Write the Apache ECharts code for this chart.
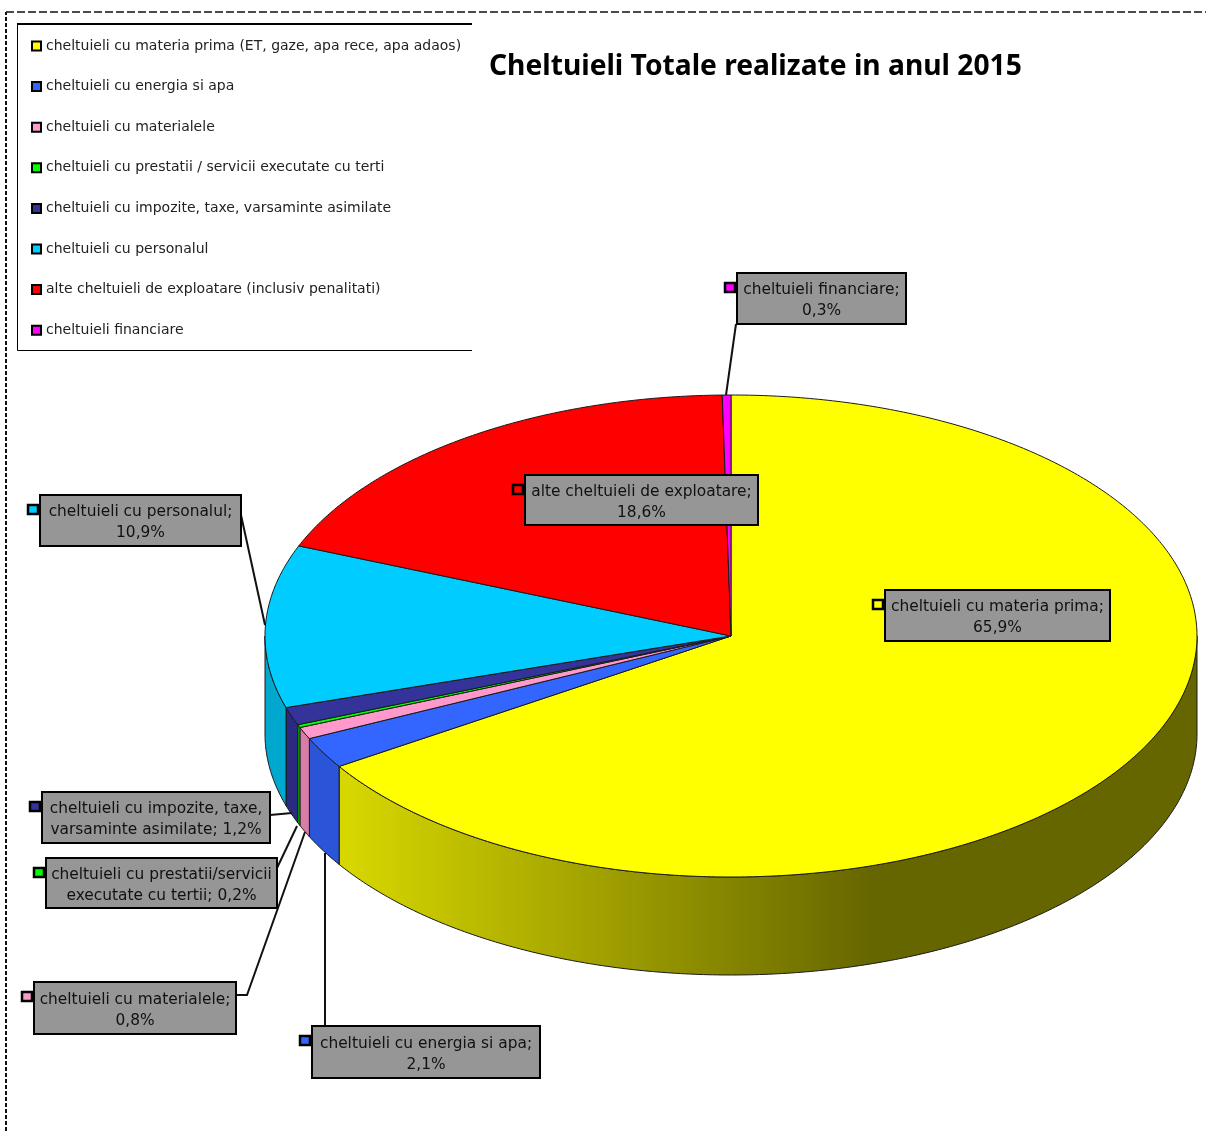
<!DOCTYPE html>
<html>
<head>
<meta charset="utf-8">
<title>Cheltuieli Totale 2015</title>
<script src="https://cdn.jsdelivr.net/npm/echarts@6/dist/echarts.min.js"></script>
<style>
  html, body { margin: 0; padding: 0; background: #fff; }
  #chart { width: 1206px; height: 1131px; }
</style>
</head>
<body>
<div id="chart"></div>
<script>
const titleText = 'Cheltuieli Totale realizate in anul 2015'

const legendNames = [
  'cheltuieli cu materia prima (ET, gaze, apa rece, apa adaos)',
  'cheltuieli cu energia si apa',
  'cheltuieli cu materialele',
  'cheltuieli cu prestatii / servicii executate cu terti',
  'cheltuieli cu impozite, taxe, varsaminte asimilate',
  'cheltuieli cu personalul',
  'alte cheltuieli de exploatare (inclusiv penalitati)',
  'cheltuieli financiare'
]
const percents = [65.9, 2.1, 0.8, 0.2, 1.2, 10.9, 18.6, 0.3]
const labelLines = [
  ['cheltuieli cu materia prima;', '65,9%'],
  ['cheltuieli cu energia si apa;', '2,1%'],
  ['cheltuieli cu materialele;', '0,8%'],
  ['cheltuieli cu prestatii/servicii', 'executate cu tertii; 0,2%'],
  ['cheltuieli cu impozite, taxe,', 'varsaminte asimilate; 1,2%'],
  ['cheltuieli cu personalul;', '10,9%'],
  ['alte cheltuieli de exploatare;', '18,6%'],
  ['cheltuieli financiare;', '0,3%']
]
const topColors = ['#ffff00', '#3366ff', '#ff99cc', '#00ff00', '#333399', '#00ccff', '#ff0000', '#ff00ff']
const wallColors = ['#d8d800', '#2a55d8', '#d87ca8', '#00d000', '#2a2a80', '#00a8d0', '#d00000', '#d000d0']

// geometria placintei
const cx = 731, cy = 636, rx = 466, ry = 241, depth = 98

// casetele de eticheta: [x0, y0, x1, y1], linia de legatura
const labelBoxes = [
  { box: [885, 590, 1110, 641], leader: null },
  { box: [312, 1026, 540, 1078], leader: [[325, 1026], [325, 853]] },
  { box: [34, 982, 236, 1034], leader: [[236, 995], [247, 995], [305, 832]] },
  { box: [46, 858, 277, 908], leader: [[277, 868], [297, 826]] },
  { box: [42, 792, 270, 843], leader: [[270, 815], [292, 813]] },
  { box: [40, 495, 241, 546], leader: [[241, 515], [265, 625]] },
  { box: [525, 475, 758, 525], leader: null },
  { box: [737, 273, 906, 324], leader: [[736, 324], [726, 395]] }
]

const total = percents.reduce((a, b) => a + b, 0)
const starts = []
percents.reduce((sum, p, i) => { starts[i] = sum; return sum + p }, 0)

const toAngle = p => p / total * Math.PI * 2
const rimPoint = (t, dy) => [cx + rx * Math.sin(t), cy - ry * Math.cos(t) + dy]

function arcPoints(t0, t1, dy) {
  const n = Math.max(2, Math.ceil((t1 - t0) / 0.01))
  const pts = []
  for (let i = 0; i <= n; i++) pts.push(rimPoint(t0 + (t1 - t0) * i / n, dy))
  return pts
}

function wallFill(i) {
  if (i !== 0) return wallColors[i]
  // peretele galben se intuneca spre dreapta
  return new echarts.graphic.LinearGradient(341, 0, 1197, 0, [
    { offset: 0, color: '#d8d800' },
    { offset: 0.62, color: '#666600' },
    { offset: 1, color: '#666600' }
  ], true)
}

function renderSlice(params, api) {
  const i = params.seriesIndex
  const t0 = toAngle(starts[i])
  const t1 = toAngle(starts[i] + api.value(0))
  const children = []

  // peretele lateral, doar pe partea din fata
  const a = Math.max(t0, Math.PI / 2)
  const b = Math.min(t1, Math.PI * 1.5)
  if (b > a) {
    children.push({
      type: 'polygon',
      z2: 1,
      shape: { points: arcPoints(a, b, 0).concat(arcPoints(a, b, depth).reverse()) },
      style: { fill: wallFill(i), stroke: '#1a1a1a', lineWidth: 1 }
    })
  }

  children.push({
    type: 'polygon',
    z2: 2,
    shape: { points: [[cx, cy]].concat(arcPoints(t0, t1, 0)) },
    style: { fill: topColors[i], stroke: '#1a1a1a', lineWidth: 1 }
  })

  // eticheta
  const { box, leader } = labelBoxes[i]
  if (leader) {
    children.push({
      type: 'polyline',
      z2: 5,
      shape: { points: leader },
      style: { fill: 'none', stroke: '#111', lineWidth: 2 }
    })
  }
  children.push({
    type: 'rect',
    z2: 6,
    shape: { x: box[0], y: box[1], width: box[2] - box[0], height: box[3] - box[1] },
    style: { fill: '#969696', stroke: '#000', lineWidth: 2 }
  })
  children.push({
    type: 'rect',
    z2: 7,
    shape: { x: box[0] - 12, y: box[1] + 10, width: 10, height: 9 },
    style: { fill: topColors[i], stroke: '#000', lineWidth: 2.5 }
  })
  children.push({
    type: 'text',
    z2: 8,
    style: {
      x: (box[0] + box[2]) / 2,
      y: (box[1] + box[3]) / 2 + 2,
      text: labelLines[i].join('\n'),
      align: 'center',
      verticalAlign: 'middle',
      lineHeight: 21,
      fill: '#111',
      font: '15.4px "DejaVu Sans"'
    }
  })

  return { type: 'group', children }
}

const chart = echarts.init(document.getElementById('chart'))
chart.setOption({
  animation: false,
  backgroundColor: '#fff',
  title: {
    text: titleText,
    left: 484,
    top: 48,
    textStyle: { fontFamily: 'Noto Sans', fontWeight: 'bold', fontSize: 28.2, color: '#000' }
  },
  legend: {
    orient: 'vertical',
    left: 31,
    top: 39,
    padding: 0,
    itemWidth: 9,
    itemHeight: 9,
    itemGap: 26.6,
    icon: 'rect',
    selectedMode: false,
    data: legendNames,
    itemStyle: { borderColor: '#000', borderWidth: 2 },
    textStyle: { fontFamily: 'DejaVu Sans', fontSize: 14, color: '#222' }
  },
  graphic: [
    {
      type: 'polyline',
      shape: { points: [[6, 1131], [6, 12]] },
      style: { fill: 'none', stroke: '#111', lineWidth: 2, lineDash: [4, 2] }
    },
    {
      type: 'polyline',
      shape: { points: [[6, 12], [1206, 12]] },
      style: { fill: 'none', stroke: '#111', lineWidth: 1.5, lineDash: [8, 3] }
    },
    {
      type: 'polyline',
      shape: { points: [[17.5, 24], [17.5, 350.5], [472, 350.5]] },
      style: { fill: 'none', stroke: '#000', lineWidth: 1 }
    },
    {
      type: 'polyline',
      shape: { points: [[17, 24], [472, 24]] },
      style: { fill: 'none', stroke: '#000', lineWidth: 2 }
    }
  ],
  series: percents.map((p, i) => ({
    type: 'custom',
    name: legendNames[i],
    coordinateSystem: 'none',
    itemStyle: { color: topColors[i] },
    renderItem: renderSlice,
    data: [[p]]
  }))
})
window.addEventListener('resize', () => chart.resize())
</script>
</body>
</html>
